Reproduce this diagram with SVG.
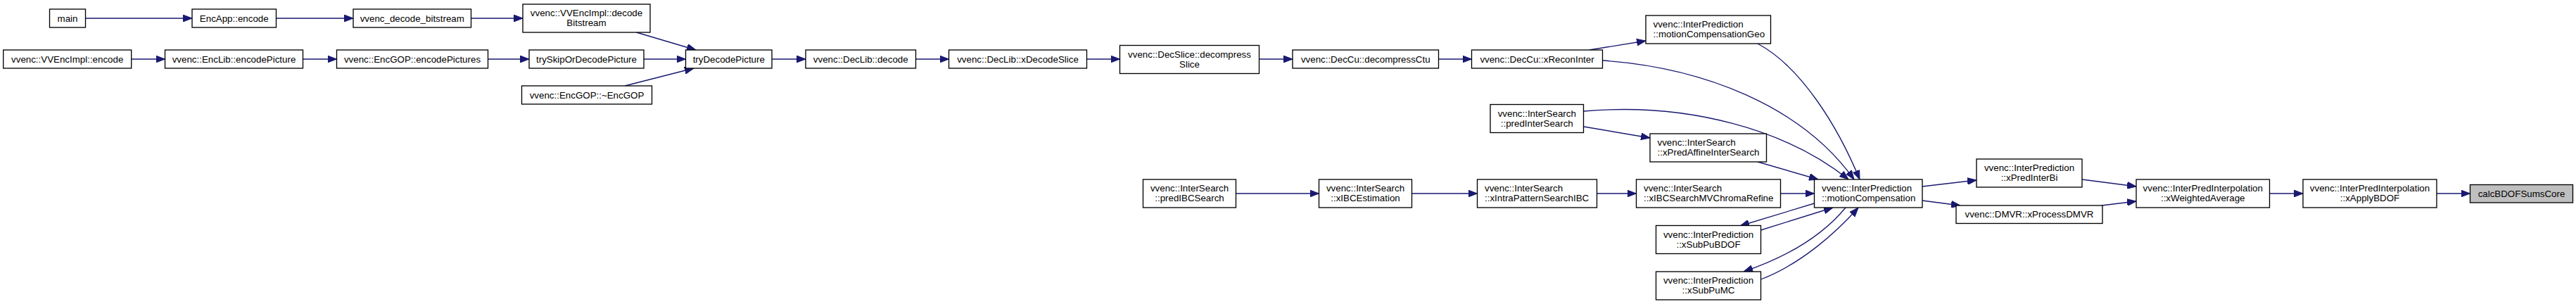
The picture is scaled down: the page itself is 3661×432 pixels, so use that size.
<svg xmlns="http://www.w3.org/2000/svg" width="3661" height="432" viewBox="0 0 3661 432">
<style>
.n rect{fill:#ffffff;stroke:#000000;stroke-width:1.33}
.n.cur rect{fill:#bfbfbf}
text{font-family:"Liberation Sans",Arial,Helvetica,sans-serif;font-size:13.33px;fill:#000000}
.c{text-anchor:middle}
.l{text-anchor:start}
#edges path{fill:none;stroke:#191970;stroke-width:1.33;marker-end:url(#ah)}
</style>
<defs>
<marker id="ah" viewBox="0 0 13 10" refX="13" refY="5" markerWidth="13" markerHeight="10" orient="auto" markerUnits="userSpaceOnUse">
<path d="M0,0 L13,5 L0,10 z" fill="#191970" stroke="#191970" stroke-width="1"/>
</marker>
</defs>
<rect x="0" y="0" width="3661" height="432" fill="#ffffff"/>
<g id="edges">
<path d="M121.5,26 L273,26"/>
<path d="M392.5,26 L502,26"/>
<path d="M669.5,26 L743,26"/>
<path d="M904.5,46 L989,71"/>
<path d="M186.5,84 L234.5,84"/>
<path d="M430.5,84 L478.5,84"/>
<path d="M693.5,84 L752,84"/>
<path d="M915,84 L974.5,84"/>
<path d="M888,122 L986,97"/>
<path d="M1097,84 L1145,84"/>
<path d="M1301.5,84 L1348.5,84"/>
<path d="M1544.5,84 L1591.5,84"/>
<path d="M1789.5,84 L1837,84"/>
<path d="M2044.5,84 L2091.5,84"/>
<path d="M2258.5,71 L2339,58"/>
<path d="M2278,86 C2420,96 2560,150 2635,255"/>
<path d="M2498,62 C2560,95 2612,180 2643,255"/>
<path d="M2251,158 C2400,145 2540,185 2627,255"/>
<path d="M2251,180 L2345,196"/>
<path d="M2498,230 L2584,255"/>
<path d="M1756.5,275 L1874.5,275"/>
<path d="M2006.5,275 L2099.5,275"/>
<path d="M2269.5,275 L2325.5,275"/>
<path d="M2530.5,275 L2578.5,275"/>
<path d="M2578.5,289 L2473,321"/>
<path d="M2502.5,327 L2605,295"/>
<path d="M2623,295 C2590,335 2540,365 2478,386"/>
<path d="M2502.5,397 C2560,375 2610,330 2641,295"/>
<path d="M2732,265 L2809,256"/>
<path d="M2732,285 L2786,292"/>
<path d="M2959,255 L3036,265"/>
<path d="M2987,292 L3036,286"/>
<path d="M3225.5,275 L3273,275"/>
<path d="M3463,275 L3510.5,275"/>
</g>
<g id="n_main" class="n"><rect x="70.5" y="13" width="51" height="26"/><text class="c" x="96" y="30.5">main</text></g>
<g id="n_encapp" class="n"><rect x="273" y="13" width="119.5" height="26"/><text class="c" x="332.75" y="30.5">EncApp::encode</text></g>
<g id="n_decbs" class="n"><rect x="502" y="13" width="167.5" height="26"/><text class="c" x="585.75" y="30.5">vvenc_decode_bitstream</text></g>
<g id="n_vvdecbs" class="n"><rect x="743" y="6" width="181" height="40"/><text class="c" x="833.5" y="23">vvenc::VVEncImpl::decode</text><text class="c" x="833.5" y="37">Bitstream</text></g>
<g id="n_vvenc" class="n"><rect x="4.7" y="71" width="182" height="26"/><text class="c" x="95.7" y="88.5">vvenc::VVEncImpl::encode</text></g>
<g id="n_enclib" class="n"><rect x="234.5" y="71" width="196" height="26"/><text class="c" x="332.5" y="88.5">vvenc::EncLib::encodePicture</text></g>
<g id="n_encgop" class="n"><rect x="478.5" y="71" width="215" height="26"/><text class="c" x="586" y="88.5">vvenc::EncGOP::encodePictures</text></g>
<g id="n_tryskip" class="n"><rect x="752" y="71" width="163" height="26"/><text class="c" x="833.5" y="88.5">trySkipOrDecodePicture</text></g>
<g id="n_dtor" class="n"><rect x="741.5" y="122" width="185" height="26"/><text class="c" x="834" y="139.5">vvenc::EncGOP::~EncGOP</text></g>
<g id="n_trydec" class="n"><rect x="974.5" y="71" width="122.5" height="26"/><text class="c" x="1035.75" y="88.5">tryDecodePicture</text></g>
<g id="n_declib" class="n"><rect x="1145" y="71" width="156.5" height="26"/><text class="c" x="1223.25" y="88.5">vvenc::DecLib::decode</text></g>
<g id="n_xdecslice" class="n"><rect x="1348.5" y="71" width="196" height="26"/><text class="c" x="1446.5" y="88.5">vvenc::DecLib::xDecodeSlice</text></g>
<g id="n_decslice" class="n"><rect x="1591.5" y="64.5" width="198" height="40"/><text class="c" x="1690.5" y="81.5">vvenc::DecSlice::decompress</text><text class="c" x="1690.5" y="95.5">Slice</text></g>
<g id="n_decctu" class="n"><rect x="1837" y="71" width="207.5" height="26"/><text class="c" x="1940.75" y="88.5">vvenc::DecCu::decompressCtu</text></g>
<g id="n_recon" class="n"><rect x="2091.5" y="71" width="186" height="26"/><text class="c" x="2184.5" y="88.5">vvenc::DecCu::xReconInter</text></g>
<g id="n_mcgeo" class="n"><rect x="2339" y="22" width="177.5" height="40"/><text class="l" x="2349.5" y="39">vvenc::InterPrediction</text><text class="l" x="2349.5" y="53">::motionCompensationGeo</text></g>
<g id="n_predinter" class="n"><rect x="2118" y="148.5" width="132.5" height="40"/><text class="c" x="2184.25" y="165.5">vvenc::InterSearch</text><text class="c" x="2184.25" y="179.5">::predInterSearch</text></g>
<g id="n_affine" class="n"><rect x="2345" y="190" width="165.5" height="40"/><text class="l" x="2355.5" y="207">vvenc::InterSearch</text><text class="l" x="2355.5" y="221">::xPredAffineInterSearch</text></g>
<g id="n_predibc" class="n"><rect x="1624.5" y="255" width="132" height="40"/><text class="c" x="1690.5" y="272">vvenc::InterSearch</text><text class="c" x="1690.5" y="286">::predIBCSearch</text></g>
<g id="n_ibcest" class="n"><rect x="1874.5" y="255" width="132" height="40"/><text class="c" x="1940.5" y="272">vvenc::InterSearch</text><text class="c" x="1940.5" y="286">::xIBCEstimation</text></g>
<g id="n_intrapat" class="n"><rect x="2099.5" y="255" width="170" height="40"/><text class="l" x="2110" y="272">vvenc::InterSearch</text><text class="l" x="2110" y="286">::xIntraPatternSearchIBC</text></g>
<g id="n_chroma" class="n"><rect x="2325.5" y="255" width="205" height="40"/><text class="l" x="2336" y="272">vvenc::InterSearch</text><text class="l" x="2336" y="286">::xIBCSearchMVChromaRefine</text></g>
<g id="n_mc" class="n"><rect x="2578.5" y="255" width="153.5" height="40"/><text class="l" x="2589" y="272">vvenc::InterPrediction</text><text class="l" x="2589" y="286">::motionCompensation</text></g>
<g id="n_subbdof" class="n"><rect x="2353.5" y="320.5" width="149" height="40"/><text class="c" x="2428" y="337.5">vvenc::InterPrediction</text><text class="c" x="2428" y="351.5">::xSubPuBDOF</text></g>
<g id="n_submc" class="n"><rect x="2353.5" y="386" width="149" height="40"/><text class="c" x="2428" y="403">vvenc::InterPrediction</text><text class="c" x="2428" y="417">::xSubPuMC</text></g>
<g id="n_predbi" class="n"><rect x="2809" y="226" width="150" height="40"/><text class="c" x="2884" y="243">vvenc::InterPrediction</text><text class="c" x="2884" y="257">::xPredInterBi</text></g>
<g id="n_dmvr" class="n"><rect x="2780" y="292" width="208" height="25.5"/><text class="c" x="2884" y="309">vvenc::DMVR::xProcessDMVR</text></g>
<g id="n_wavg" class="n"><rect x="3036" y="255" width="189.5" height="40"/><text class="c" x="3130.75" y="272">vvenc::InterPredInterpolation</text><text class="c" x="3130.75" y="286">::xWeightedAverage</text></g>
<g id="n_applybdof" class="n"><rect x="3273" y="255" width="190" height="40"/><text class="c" x="3368" y="272">vvenc::InterPredInterpolation</text><text class="c" x="3368" y="286">::xApplyBDOF</text></g>
<g id="n_calc" class="n cur"><rect x="3510.5" y="262.5" width="146" height="25.5"/><text class="c" x="3583.5" y="280">calcBDOFSumsCore</text></g>
</svg>
